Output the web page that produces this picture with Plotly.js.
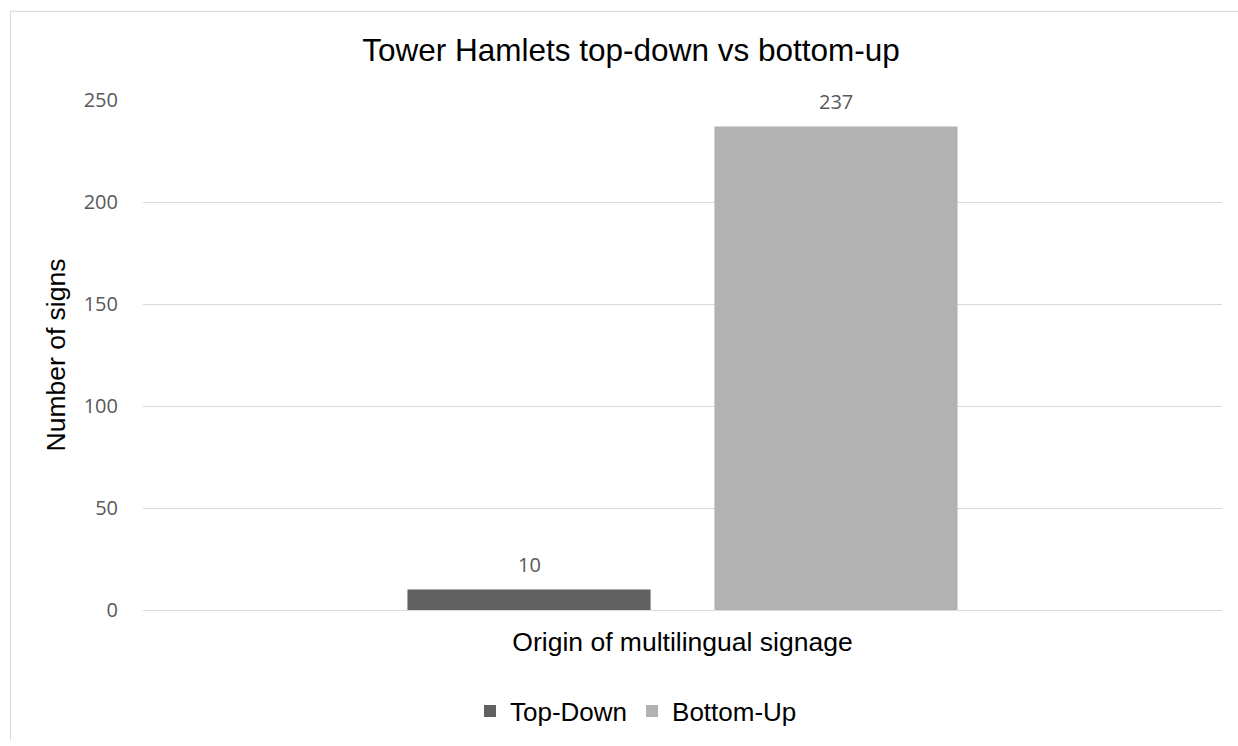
<!DOCTYPE html>
<html>
<head>
<meta charset="utf-8">
<script src="https://cdn.plot.ly/plotly-3.0.1.min.js"></script>
<style>html,body{margin:0;padding:0;background:#fff;}#chart{width:1238px;height:746px;}</style>
</head>
<body>
<div id="chart"></div>
<script>
const category = ["Origin of multilingual signage"];
const seriesNames = ["Top-Down", "Bottom-Up"];
const topDown = [10];
const bottomUp = [237];
const seriesValues = [topDown, bottomUp];
const colors = ["#616161", "#b2b2b2"];
const yTicks = [0, 50, 100, 150, 200, 250];

const L = 143, R = 16, T = 100, B = 131, W = 1238, H = 746;
const pw = W - L - R, ph = H - T - B;
const px = v => (v - L) / pw;
const py = v => (H - B - v) / ph;
const BARGAP = 0.431, GROUPGAP = 0.208;

const traces = seriesValues.map((vals, i) => ({
  type: 'bar',
  name: seriesNames[i],
  x: category,
  y: vals,
  marker: {color: colors[i]},
  hoverinfo: 'y+name'
}));

const groupSlot = pw * (1 - BARGAP) / seriesValues.length;
const annotations = [];
seriesValues.forEach((vals, i) => {
  vals.forEach((v, j) => {
    annotations.push({
      x: category[j], y: v, xref: 'x', yref: 'y',
      text: String(v), showarrow: false,
      xshift: (i - (seriesValues.length - 1) / 2) * groupSlot, yshift: 25,
      font: {family: 'Open Sans, sans-serif', size: 20, color: '#595959'}
    });
  });
});

const layout = {
  width: W, height: H,
  margin: {l: L, r: R, t: T, b: B},
  paper_bgcolor: '#fff', plot_bgcolor: '#fff',
  title: {
    text: 'Tower Hamlets top-down vs bottom-up',
    x: 631 / W, xanchor: 'center', y: 1 - 50 / H, yanchor: 'middle',
    font: {family: 'Liberation Sans, Arial, sans-serif', size: 31.5, color: '#000'}
  },
  barmode: 'group', bargap: BARGAP, bargroupgap: GROUPGAP,
  xaxis: {
    showticklabels: false, showgrid: false, zeroline: false,
    showline: false, ticks: '', fixedrange: true,
    title: {text: category[0], standoff: 22,
      font: {family: 'Liberation Sans, Arial, sans-serif', size: 26.5, color: '#000'}},
    automargin: false
  },
  yaxis: {
    range: [0, 250], tickvals: yTicks, ticktext: yTicks.map(String),
    showgrid: true, gridcolor: '#d9d9d9', gridwidth: 1,
    zeroline: true, zerolinecolor: '#d9d9d9', zerolinewidth: 1,
    showline: false, ticks: '', ticklabelstandoff: 24,
    tickfont: {family: 'Open Sans, sans-serif', size: 20, color: '#595959'},
    title: {text: 'Number of signs', standoff: 10,
      font: {family: 'Liberation Sans, Arial, sans-serif', size: 26.5, color: '#000'}},
    automargin: false
  },
  showlegend: true,
  legend: {
    orientation: 'h', x: px(636), xanchor: 'center', y: py(717), yanchor: 'middle',
    font: {family: 'Liberation Sans, Arial, sans-serif', size: 26, color: '#000'},
    itemwidth: 30, tracegroupgap: 0, traceorder: 'normal'
  },
  annotations: annotations,
  shapes: [
    {type: 'line', xref: 'paper', yref: 'paper', x0: px(10.5), x1: px(10.5), y0: py(10), y1: py(746), line: {color: '#d9d9d9', width: 1}},
    {type: 'line', xref: 'paper', yref: 'paper', x0: px(10), x1: px(1238), y0: py(10.5), y1: py(10.5), line: {color: '#d9d9d9', width: 1}}
  ]
};

Plotly.newPlot('chart', traces, layout, {displayModeBar: false, staticPlot: true});
</script>
</body>
</html>
